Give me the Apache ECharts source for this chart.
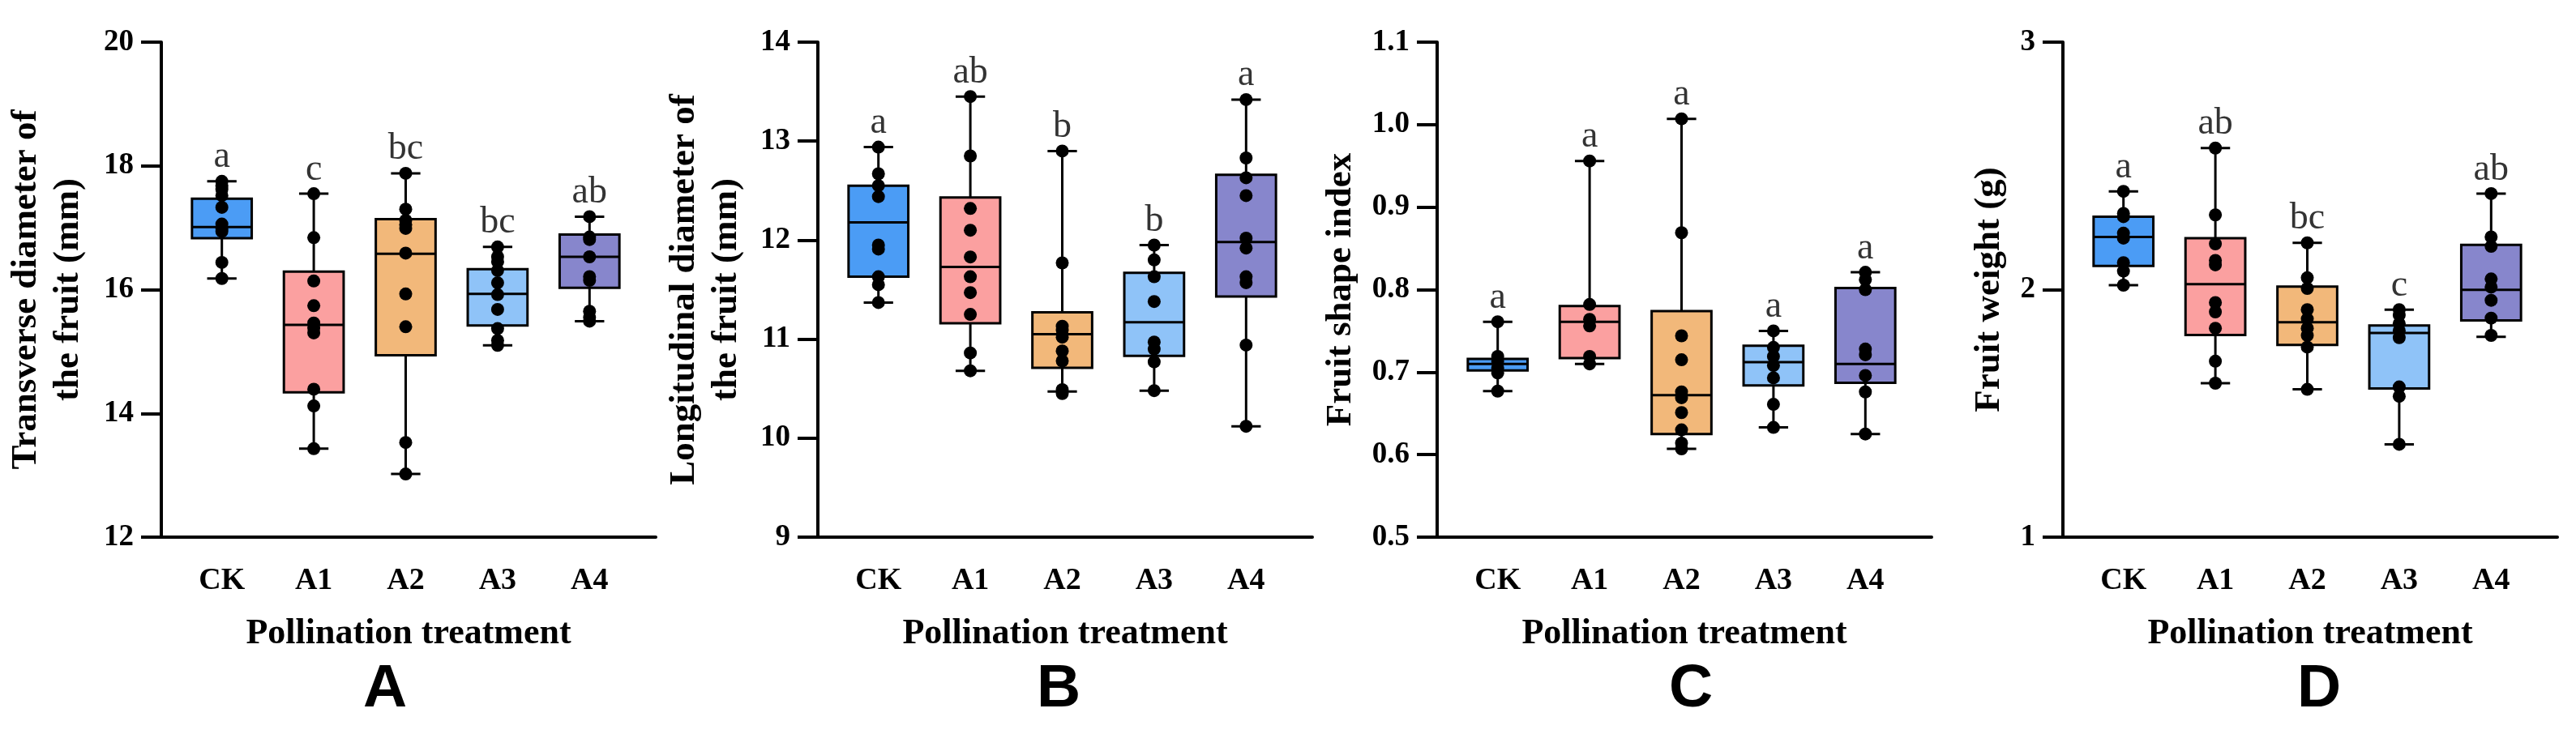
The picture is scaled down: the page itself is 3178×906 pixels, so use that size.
<!DOCTYPE html>
<html lang="en">
<head>
<meta charset="UTF-8">
<title>Fruit traits under pollination treatments</title>
<script src="https://cdn.jsdelivr.net/npm/echarts/dist/echarts.min.js"></script>
<style>
    html, body { margin: 0; padding: 0; background: #fff; }
    #main { width: 3178px; height: 906px; }
</style>
</head>
<body>
<div id="main"></div>
<script>
    var categories = ['CK', 'A1', 'A2', 'A3', 'A4'];
    var boxColors = ['#4b9cf5', '#fba0a0', '#f2b87a', '#8fc3f8', '#8786cc'];

    // box summaries: [min, Q1, median, Q3, max]
    var transverseBox = [
        [16.18, 16.83, 17.01, 17.47, 17.75],
        [13.43, 14.34, 15.43, 16.29, 17.55],
        [13.02, 14.94, 16.58, 17.14, 17.88],
        [15.10, 15.42, 15.93, 16.33, 16.69],
        [15.49, 16.03, 16.53, 16.89, 17.18]
    ];
    var transversePoints = [
        [17.75, 17.68, 17.62, 17.52, 17.33, 17.06, 16.99, 16.94, 16.44, 16.18],
        [17.55, 16.84, 16.14, 15.74, 15.46, 15.38, 15.30, 14.39, 14.12, 13.43],
        [17.88, 17.30, 17.12, 17.05, 16.99, 16.59, 15.93, 15.40, 13.53, 13.02],
        [16.69, 16.53, 16.45, 16.31, 16.11, 15.92, 15.68, 15.37, 15.18, 15.10],
        [17.18, 16.85, 16.81, 16.53, 16.21, 16.15, 15.65, 15.55, 15.49]
    ];
    var transverseLetters = ['a', 'c', 'bc', 'bc', 'ab'];

    var longitudinalBox = [
        [11.37, 11.63, 12.18, 12.55, 12.94],
        [10.68, 11.16, 11.73, 12.43, 13.45],
        [10.47, 10.71, 11.05, 11.27, 12.90],
        [10.48, 10.83, 11.17, 11.67, 11.95],
        [10.12, 11.43, 11.98, 12.66, 13.42]
    ];
    var longitudinalPoints = [
        [12.94, 12.67, 12.55, 12.44, 11.95, 11.91, 11.63, 11.55, 11.37],
        [13.45, 12.85, 12.32, 12.10, 11.83, 11.63, 11.47, 11.25, 10.86, 10.68],
        [12.90, 11.77, 11.13, 11.09, 11.02, 10.88, 10.78, 10.49, 10.45],
        [11.95, 11.80, 11.63, 11.38, 10.97, 10.90, 10.77, 10.48],
        [13.42, 12.83, 12.63, 12.45, 12.02, 11.92, 11.63, 11.57, 10.94, 10.12]
    ];
    var longitudinalLetters = ['a', 'ab', 'b', 'b', 'a'];

    var shapeBox = [
        [0.677, 0.702, 0.710, 0.716, 0.761],
        [0.710, 0.717, 0.761, 0.780, 0.956],
        [0.607, 0.625, 0.672, 0.774, 1.007],
        [0.633, 0.684, 0.712, 0.732, 0.750],
        [0.625, 0.687, 0.710, 0.802, 0.821]
    ];
    var shapePoints = [
        [0.761, 0.719, 0.713, 0.705, 0.699, 0.677],
        [0.956, 0.782, 0.764, 0.756, 0.719, 0.710],
        [1.007, 0.869, 0.744, 0.715, 0.676, 0.669, 0.651, 0.630, 0.614, 0.607],
        [0.750, 0.730, 0.719, 0.708, 0.693, 0.661, 0.633],
        [0.821, 0.812, 0.800, 0.728, 0.721, 0.696, 0.676, 0.625]
    ];
    var shapeLetters = ['a', 'a', 'a', 'a', 'a'];

    var weightBox = [
        [2.018, 2.096, 2.213, 2.295, 2.397],
        [1.622, 1.817, 2.022, 2.208, 2.572],
        [1.597, 1.777, 1.868, 2.012, 2.189],
        [1.375, 1.601, 1.825, 1.855, 1.919],
        [1.809, 1.876, 1.999, 2.181, 2.388]
    ];
    var weightPoints = [
        [2.397, 2.308, 2.295, 2.228, 2.208, 2.109, 2.075, 2.018],
        [2.572, 2.302, 2.185, 2.118, 2.100, 1.948, 1.910, 1.844, 1.711, 1.622],
        [2.189, 2.048, 2.005, 1.919, 1.882, 1.844, 1.815, 1.768, 1.597],
        [1.919, 1.897, 1.863, 1.834, 1.806, 1.607, 1.569, 1.375],
        [2.388, 2.213, 2.175, 2.043, 2.010, 1.957, 1.885, 1.815]
    ];
    var weightLetters = ['a', 'ab', 'bc', 'c', 'ab'];

    var serif = "'Liberation Serif', 'Times New Roman', serif";

    // one entry per panel (layout + which arrays to use)
    var panels = [
        {left: 199, box: transverseBox, pts: transversePoints, letters: transverseLetters,
            min: 12, max: 20, step: 2, digits: 0, nameGap: 89,
            name: 'Transverse diameter of\nthe fruit (mm)', tag: 'A', tagX: 475},
        {left: 1009, box: longitudinalBox, pts: longitudinalPoints, letters: longitudinalLetters,
            min: 9, max: 14, step: 1, digits: 0, nameGap: 87,
            name: 'Longitudinal diameter of\nthe fruit (mm)', tag: 'B', tagX: 1306},
        {left: 1773, box: shapeBox, pts: shapePoints, letters: shapeLetters,
            min: 0.5, max: 1.1, step: 0.1, digits: 1, nameGap: 93,
            name: 'Fruit shape index', tag: 'C', tagX: 2086},
        {left: 2545, box: weightBox, pts: weightPoints, letters: weightLetters,
            min: 1, max: 3, step: 1, digits: 0, nameGap: 65,
            name: 'Fruit weight (g)', tag: 'D', tagX: 2861}
    ];

    function renderBox(params, api) {
        var k = api.value(0);
        var lo = api.coord([k, api.value(1)]);
        var q1 = api.coord([k, api.value(2)]);
        var md = api.coord([k, api.value(3)]);
        var q3 = api.coord([k, api.value(4)]);
        var hi = api.coord([k, api.value(5)]);
        var band = api.size([1, 0])[0];
        var hw = band * 0.325, cw = band * 0.16;
        var x = lo[0];
        var ls = {stroke: '#000', lineWidth: 3};
        return {
            type: 'group',
            children: [
                {type: 'line', shape: {x1: x, y1: lo[1], x2: x, y2: q1[1]}, style: ls},
                {type: 'line', shape: {x1: x, y1: q3[1], x2: x, y2: hi[1]}, style: ls},
                {type: 'line', shape: {x1: x - cw, y1: lo[1], x2: x + cw, y2: lo[1]}, style: ls},
                {type: 'line', shape: {x1: x - cw, y1: hi[1], x2: x + cw, y2: hi[1]}, style: ls},
                {type: 'rect', shape: {x: x - hw, y: q3[1], width: hw * 2, height: q1[1] - q3[1]},
                    style: {fill: boxColors[params.dataIndex], stroke: '#000', lineWidth: 3}},
                {type: 'line', shape: {x1: x - hw, y1: md[1], x2: x + hw, y2: md[1]}, style: ls}
            ]
        };
    }

    var grids = [], xAxes = [], yAxes = [], series = [], graphics = [];

    panels.forEach(function (p, i) {
        var fi = i * 2, di = i * 2 + 1;
        // frame grid draws the axis lines, y ticks and names
        grids.push({left: p.left, top: 52, width: 610, height: 611});
        // data grid holds the category positions
        grids.push({left: p.left + 18, top: 52, width: 567, height: 611});

        xAxes.push({
            gridIndex: fi, type: 'value', min: 0, max: 1,
            axisLine: {onZero: false, lineStyle: {color: '#000', width: 4}},
            axisTick: {show: false}, axisLabel: {show: false}, splitLine: {show: false},
            name: 'Pollination treatment', nameLocation: 'middle', nameGap: 98,
            nameTextStyle: {fontFamily: serif, fontWeight: 'bold', fontSize: 44, color: '#000'}
        });
        xAxes.push({
            gridIndex: di, type: 'category', data: categories,
            axisLine: {show: false},
            axisTick: {alignWithLabel: true, length: 25, lineStyle: {color: '#000', width: 4}},
            axisLabel: {margin: 35, fontFamily: serif, fontWeight: 'bold', fontSize: 38, color: '#000'}
        });
        yAxes.push({
            gridIndex: fi, type: 'value', min: p.min, max: p.max, interval: p.step,
            axisLine: {show: true, onZero: false, lineStyle: {color: '#000', width: 4}},
            axisTick: {show: true, length: 25, lineStyle: {color: '#000', width: 4}},
            axisLabel: {
                margin: 34, fontFamily: serif, fontWeight: 'bold', fontSize: 37, color: '#000',
                formatter: (function (d) { return function (v) { return v.toFixed(d); }; })(p.digits)
            },
            splitLine: {show: false},
            name: p.name, nameLocation: 'middle', nameGap: p.nameGap,
            nameTextStyle: {fontFamily: serif, fontWeight: 'bold', fontSize: 45, lineHeight: 52, color: '#000'}
        });
        yAxes.push({gridIndex: di, type: 'value', min: p.min, max: p.max, show: false});

        series.push({
            type: 'custom', xAxisIndex: di, yAxisIndex: di, z: 2,
            data: p.box.map(function (b, k) { return [k].concat(b); }),
            encode: {x: 0, y: [1, 2, 3, 4, 5]},
            renderItem: renderBox
        });

        var dots = [];
        p.pts.forEach(function (arr, k) {
            arr.forEach(function (v) { dots.push([k, v]); });
        });
        series.push({
            type: 'scatter', xAxisIndex: di, yAxisIndex: di, z: 3,
            symbolSize: 16, itemStyle: {color: '#000', opacity: 1},
            data: dots
        });

        var letters = p.letters;
        series.push({
            type: 'scatter', xAxisIndex: di, yAxisIndex: di, z: 4, silent: true,
            symbolSize: 1, itemStyle: {color: 'rgba(0,0,0,0)'},
            data: p.box.map(function (b, k) { return [k, b[4]]; }),
            label: {
                show: true, position: 'top', distance: 6,
                fontFamily: serif, fontSize: 46, color: '#000',
                formatter: function (prm) { return letters[prm.dataIndex]; }
            }
        });

        graphics.push({
            type: 'text', x: p.tagX, y: 814,
            style: {
                text: p.tag, fill: '#000',
                font: "bold 75px 'Liberation Sans', Arial, sans-serif",
                align: 'center', verticalAlign: 'top',
                textAlign: 'center', textVerticalAlign: 'top'
            }
        });
    });

    var myChart = echarts.init(document.getElementById('main'));
    myChart.setOption({
        animation: false,
        backgroundColor: '#fff',
        grid: grids,
        xAxis: xAxes,
        yAxis: yAxes,
        series: series,
        graphic: graphics
    });
</script>
</body>
</html>
